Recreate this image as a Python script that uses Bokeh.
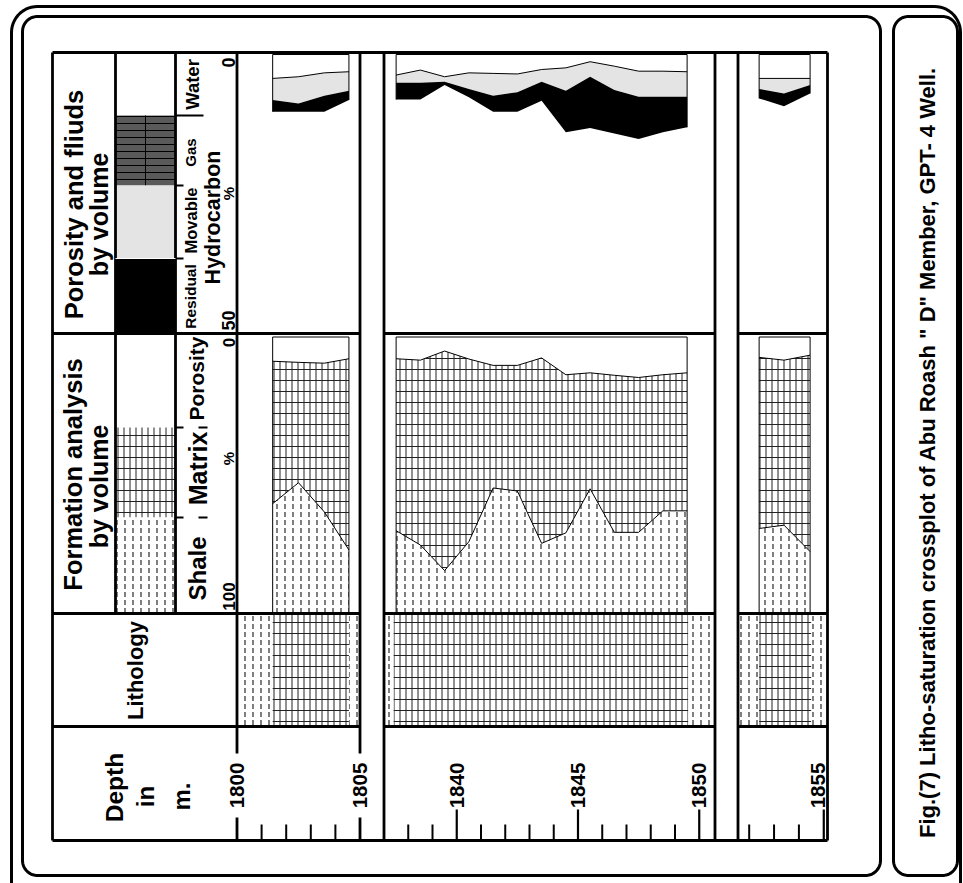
import numpy as np
from bokeh.plotting import figure
from bokeh.models import Range1d
from bokeh.core.properties import value
from bokeh.embed import file_html
from bokeh.resources import INLINE

# ---------------- data ----------------
# depth (m) of the log samples in each plotted interval
seg1_depth = [1801.45, 1802.5, 1803.55, 1804.55]
seg2_depth = [1837.5, 1838.5, 1839.5, 1840.5, 1841.5, 1842.5, 1843.5,
              1844.5, 1845.5, 1846.5, 1847.5, 1848.5, 1849.5]
seg3_depth = [1852.4, 1853.4, 1854.45]

# formation analysis by volume (%): porosity and shale (matrix = rest)
seg1_porosity = [8.8, 9.2, 9.5, 7.9]
seg1_shale = [39.5, 47.1, 36.5, 22.7]
seg2_porosity = [7.9, 8.4, 5.1, 8.0, 10.3, 10.3, 7.6, 13.7, 13.0, 13.9, 14.7, 13.7, 13.0]
seg2_shale = [29.7, 24.5, 15.2, 25.7, 45.2, 44.1, 25.1, 28.9, 44.9, 29.1, 29.1, 36.9, 36.9]
seg3_porosity = [7.4, 8.4, 6.6]
seg3_shale = [30.5, 31.7, 22.1]

# porosity and fluids by volume (%): water, movable and residual hydrocarbon
seg1_water = [4.3, 4.0, 3.3, 3.1]
seg1_movable = [3.9, 4.8, 4.1, 3.4]
seg1_residual = [2.1, 1.5, 2.9, 1.7]
seg2_water = [3.7, 2.8, 4.0, 3.3, 3.4, 3.5, 2.7, 2.4, 1.3, 2.1, 3.0, 3.0, 3.1]
seg2_movable = [1.4, 2.3, 0.9, 2.9, 4.0, 3.3, 2.2, 4.1, 2.7, 4.3, 4.6, 4.6, 4.5]
seg2_residual = [3.0, 3.0, 0.6, 1.5, 2.9, 3.5, 3.4, 7.5, 9.2, 7.8, 7.6, 6.4, 5.5]
seg3_water = [4.3, 4.3, 4.3]
seg3_movable = [1.9, 2.7, 1.2]
seg3_residual = [1.7, 2.3, 1.5]

# lithology column
lith_top = [1800.0, 1801.45, 1804.55, 1837.0, 1837.4, 1849.55, 1851.55, 1852.4, 1854.5]
lith_base = [1801.45, 1804.55, 1805.0, 1837.4, 1849.55, 1850.65, 1852.4, 1854.5, 1855.15]
lith_rock = ["Shale", "Limestone", "Shale", "Shale", "Limestone", "Shale",
             "Shale", "Limestone", "Shale"]

# depth windows shown and depth ticks
panel_top = [1800.0, 1837.0, 1851.55]
panel_base = [1805.0, 1850.65, 1855.15]
major_ticks = [1800, 1805, 1840, 1845, 1850, 1855]
minor_ticks = [1801, 1802, 1803, 1804, 1838, 1839, 1841, 1842, 1843, 1844,
               1846, 1847, 1848, 1849, 1852, 1853, 1854]

phi_scale = [0, 50]     # porosity & fluids track
form_scale = [0, 100]   # formation analysis track

title = 'Fig.(7) Litho-saturation crossplot of Abu Roash " D" Member, GPT- 4 Well.'

# ---------------- layout (page pixels) ----------------
W, H = 963, 883
X0, X1 = 0, W
Y0, Y1 = 0, H
PANEL_PX = [(236.5, 359.5), (383.5, 714.5), (737.5, 827.0)]
T_TOP, T_PHI, T_FORM, T_LITH, T_BOT = 52, 333, 613, 726, 840
T_LEFT, C1, C2, T_RIGHT = 52, 115, 175, 827
PHI_PX = (54, 332)
FORM_PX = (336.5, 612)
FONT = value("Liberation Sans")

p = figure(width=W, height=H, x_range=Range1d(X0, X1), y_range=Range1d(Y1, Y0),
           output_backend="svg", toolbar_location=None, min_border=0,
           x_axis_location=None, y_axis_location=None,
           background_fill_color="white", border_fill_color="white",
           outline_line_color=None)
p.xgrid.visible = False
p.ygrid.visible = False

xr = {}
for i, (d0, d1) in enumerate(zip(panel_top, panel_base)):
    x0, x1 = PANEL_PX[i]
    k = (x1 - x0) / (d1 - d0)
    xr[f"seg{i}"] = Range1d(d0 + (X0 - x0) / k, d0 + (X1 - x0) / k)


def pct_range(lo, hi, px):
    k = (px[1] - px[0]) / (hi - lo)
    return Range1d(lo + (Y1 - px[0]) / k, lo + (Y0 - px[0]) / k)


p.extra_x_ranges = xr
p.extra_y_ranges = {"phi": pct_range(*phi_scale, PHI_PX),
                    "form": pct_range(*form_scale, FORM_PX)}


def panel_of(d):
    for i, (a, b) in enumerate(zip(panel_top, panel_base)):
        if a - 1e-6 <= d <= b + 1e-6:
            return f"seg{i}"
    return None


BRICK_V = dict(hatch_pattern="vertical_line", hatch_scale=6, hatch_weight=1, hatch_color="#222222")
BRICK_H = dict(hatch_pattern="horizontal_line", hatch_scale=11, hatch_weight=1, hatch_color="#222222")
SHALE = dict(hatch_pattern="vertical_dash", hatch_scale=8, hatch_weight=1, hatch_color="black")


def brick_quad(**kw):
    p.quad(fill_color="white", line_color=None, **BRICK_V, **kw)
    p.quad(fill_alpha=0, line_color=None, **BRICK_H, **kw)


def shale_quad(**kw):
    p.quad(fill_color="white", line_color=None, **SHALE, **kw)


# ---------------- header legend swatches ----------------
p.quad(left=[C1], right=[C2], top=[115], bottom=[185], fill_color="#5a5a5a",
       line_color=None, hatch_pattern="horizontal_line", hatch_scale=7,
       hatch_color="black", hatch_weight=1)
p.segment(x0=[145], x1=[145], y0=[115], y1=[185], line_color="black", line_width=1)
p.quad(left=[C1], right=[C2], top=[185], bottom=[258], fill_color="#e4e4e4", line_color=None)
p.quad(left=[C1], right=[C2], top=[258], bottom=[T_PHI], fill_color="black", line_color=None)
brick_quad(left=[C1], right=[C2], top=[427], bottom=[517])
shale_quad(left=[C1], right=[C2], top=[517], bottom=[T_FORM])

# ---------------- lithology column ----------------
for t, b, r in zip(lith_top, lith_base, lith_rock):
    name = panel_of((t + b) / 2)
    if r == "Limestone":
        brick_quad(left=[t], right=[b], top=[T_FORM], bottom=[T_LITH], x_range_name=name)
    else:
        shale_quad(left=[t], right=[b], top=[T_FORM], bottom=[T_LITH], x_range_name=name)

# ---------------- log tracks ----------------
segs = [
    (seg1_depth, seg1_porosity, seg1_shale, seg1_water, seg1_movable, seg1_residual),
    (seg2_depth, seg2_porosity, seg2_shale, seg2_water, seg2_movable, seg2_residual),
    (seg3_depth, seg3_porosity, seg3_shale, seg3_water, seg3_movable, seg3_residual),
]
for depth, phi, shale, water, mov, res in segs:
    name = panel_of(depth[0])
    d = np.array(depth)
    phi = np.array(phi)
    top_shale = form_scale[1] - np.array(shale)
    # formation analysis
    f = dict(x_range_name=name, y_range_name="form")
    p.varea(x=d, y1=phi, y2=top_shale, fill_color="white", **BRICK_V, **f)
    p.varea(x=d, y1=phi, y2=top_shale, fill_alpha=0, **BRICK_H, **f)
    p.varea(x=d, y1=top_shale, y2=np.full(len(d), form_scale[1]), fill_color="white", **SHALE, **f)
    p.line(x=d, y=phi, line_color="black", line_width=1, **f)
    p.line(x=d, y=top_shale, line_color="black", line_width=1, **f)
    p.quad(left=[d[0]], right=[d[-1]], top=[form_scale[0]], bottom=[form_scale[1]],
           fill_color=None, line_color="black", line_width=1, **f)
    # porosity and fluids
    g = dict(x_range_name=name, y_range_name="phi")
    c1 = np.array(water)
    c2 = c1 + np.array(mov)
    c3 = c2 + np.array(res)
    p.varea(x=d, y1=c1, y2=c2, fill_color="#e4e4e4", **g)
    p.varea(x=d, y1=c2, y2=c3, fill_color="black", **g)
    p.line(x=d, y=c1, line_color="black", line_width=1, **g)
    p.line(x=[d[0], d[0], d[-1], d[-1]], y=[c3[0], phi_scale[0], phi_scale[0], c3[-1]],
           line_color="black", line_width=1, **g)

# ---------------- grid / table lines ----------------
LW = 2.8
p.segment(x0=[T_LEFT, T_LEFT, T_LEFT], x1=[T_RIGHT, T_RIGHT, T_LEFT],
          y0=[T_TOP, T_BOT, T_TOP], y1=[T_TOP, T_BOT, T_BOT], line_color="black", line_width=LW)
p.segment(x0=[C1, C2, T_LEFT, T_LEFT, T_LEFT], x1=[C1, C2, PANEL_PX[0][0], PANEL_PX[0][0], PANEL_PX[0][0]],
          y0=[T_TOP, T_TOP, T_PHI, T_FORM, T_LITH], y1=[T_FORM, T_FORM, T_PHI, T_FORM, T_LITH],
          line_color="black", line_width=LW)

LABEL_GAP = (753, 817)
for i, (a, b) in enumerate(zip(panel_top, panel_base)):
    name = f"seg{i}"
    p.segment(x0=[a] * 3, x1=[b] * 3, y0=[T_PHI, T_FORM, T_LITH], y1=[T_PHI, T_FORM, T_LITH],
              line_color="black", line_width=LW, x_range_name=name)
    for edge in (a, b):
        if edge in major_ticks:
            p.segment(x0=[edge, edge], x1=[edge, edge], y0=[T_TOP, LABEL_GAP[1]],
                      y1=[LABEL_GAP[0], T_BOT], line_color="black", line_width=LW, x_range_name=name)
        else:
            p.segment(x0=[edge], x1=[edge], y0=[T_TOP], y1=[T_BOT],
                      line_color="black", line_width=LW, x_range_name=name)
    inner_major = [t for t in major_ticks if a < t < b]
    if inner_major:
        p.segment(x0=inner_major, x1=inner_major, y0=[809] * len(inner_major), y1=[T_BOT] * len(inner_major),
                  line_color="black", line_width=2.2, x_range_name=name)
    mins = [t for t in minor_ticks if a < t < b]
    p.segment(x0=mins, x1=mins, y0=[824] * len(mins), y1=[T_BOT] * len(mins),
              line_color="black", line_width=2, x_range_name=name)
    labs = [t for t in major_ticks if a <= t <= b]
    offs = [-6 if (b - t) < 0.3 and t != b else 0 for t in labs]
    for t, o in zip(labs, offs):
        p.text(x=[t], y=[785], text=[str(t)], angle=np.pi / 2, text_align="center",
               text_baseline="middle", text_font=FONT, text_font_style="bold",
               text_font_size="20.5px", x_offset=o, x_range_name=name)

# header ticks / separators
p.segment(x0=[C2, C2, C2, C2, 198, C2, 198], x1=[203, 183, 183, 183, 207, 183, 207],
          y0=[115, 185, 258, 427, 427, 517, 517], y1=[115, 185, 258, 427, 427, 517, 517],
          line_color="black", line_width=2.2)
p.segment(x0=[C1], x1=[C2], y0=[258], y1=[258], line_color="white", line_width=1)


# ---------------- rounded frames ----------------
def rounded(x0, y0, x1, y1, r, n=14):
    xs, ys = [], []
    corners = [(x1 - r, y0 + r, -np.pi / 2, 0), (x1 - r, y1 - r, 0, np.pi / 2),
               (x0 + r, y1 - r, np.pi / 2, np.pi), (x0 + r, y0 + r, np.pi, 1.5 * np.pi)]
    for cx, cy, a0, a1 in corners:
        t = np.linspace(a0, a1, n)
        xs += list(cx + r * np.cos(t))
        ys += list(cy + r * np.sin(t))
    xs.append(xs[0])
    ys.append(ys[0])
    return xs, ys


for box, r, lw in [((11, 6, 960, 910), 26, 3), ((22, 16, 880, 875), 15, 3),
                   ((893, 16, 957, 875), 15, 3)]:
    xs, ys = rounded(*box, r)
    p.line(xs, ys, line_color="black", line_width=lw)


# ---------------- texts ----------------
def label(x, y, txt, size, style="bold"):
    p.text(x=[x], y=[y], text=[txt], angle=np.pi / 2, text_align="center",
           text_baseline="middle", text_font=FONT, text_font_style=style,
           text_font_size=f"{size}px", text_color="black")


label(73, 204, "Porosity and fliuds", 25.5)
label(98, 214, "by volume", 25)
label(72, 474, "Formation analysis", 25.5)
label(98, 486, "by volume", 25)
label(192, 84, "Water", 18.5)
label(190, 152, "Gas", 15)
label(190, 220, "Movable", 16.5)
label(190, 296, "Residual", 15.5)
label(212, 217, "Hydrocarbon", 21.5)
label(228, 193, "%", 15)
label(228, 62, "0", 18)
label(228, 320, "50", 18)
label(196, 378, "Porosity", 21)
label(228, 342, "0", 17)
label(197, 468, "Matrix", 25)
label(228, 458, "%", 15)
label(197, 568, "Shale", 24)
label(228, 596, "100", 17)
label(135, 670, "Lithology", 22)
label(114, 787, "Depth", 24.5)
label(145, 796, "in", 24)
label(181, 796, "m.", 24)
label(927, 452, title, 22)

open("out.html", "w").write(file_html(p, INLINE))
